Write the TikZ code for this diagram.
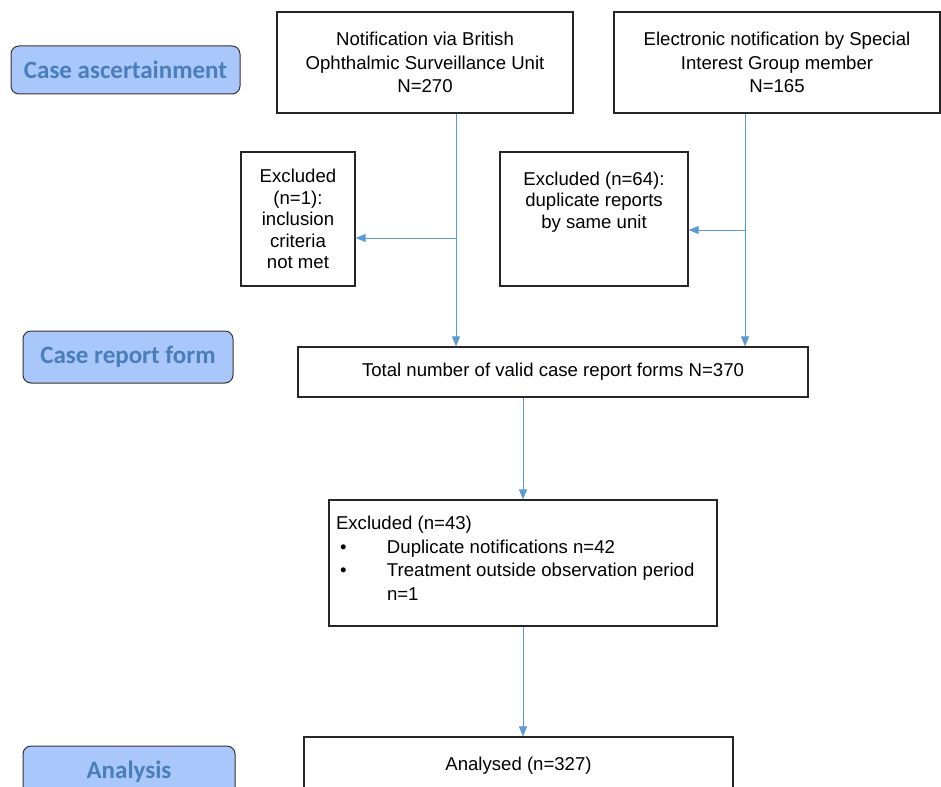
\documentclass[tikz,border=0pt]{standalone}
\usepackage{fontspec}
\setmainfont{Liberation Sans}
\newfontfamily\stageFont{Carlito}
\usepackage{tikz}
\usetikzlibrary{arrows.meta,positioning}
\usepackage{xcolor}
\definecolor{flowBlue}{HTML}{5B9BD5}
\definecolor{stageFill}{HTML}{A9C7FB}
\definecolor{stageText}{HTML}{4A7EBB}
\newcommand{\boxLine}{1.2pt}
\newcommand{\textSize}{\fontsize{18.6}{21.5}\selectfont}
\newcommand{\pictureWidth}{941}
\newcommand{\pictureHeight}{786}

\begin{document}
\begin{tikzpicture}[x=1pt, y=-1pt,
  stage/.style={draw=black!80, line width=1pt, rounded corners=8pt, fill=stageFill,
    text=stageText, font=\stageFont\bfseries\fontsize{25}{28}\selectfont, inner sep=0pt},
  flowbox/.style={draw=black!85, line width=\boxLine, fill=white, inner sep=0pt,
    align=center, font=\textSize},
  flow/.style={draw=flowBlue, line width=1pt, -{Triangle[length=10pt,width=8pt]}}]
\useasboundingbox (0,0) rectangle (\pictureWidth,\pictureHeight);
\clip (0,0) rectangle (\pictureWidth,\pictureHeight);

% stages on the left
\node[stage, minimum width=229pt, minimum height=48pt] (stageAsc) at (125.5,70) {Case ascertainment};
\node[stage, minimum width=210pt, minimum height=52pt] (stageCrf) at (128,357) {Case report form};
\node[stage, minimum width=212pt, minimum height=52pt] (stageAna) at (129,772) {Analysis};

% boxes
\node[flowbox, minimum width=296pt, minimum height=101pt, font=\fontsize{18.6}{23.5}\selectfont] (bousBox) at (425,62.5)
  {Notification via British\\Ophthalmic Surveillance Unit\\N=270};
\node[flowbox, minimum width=326pt, minimum height=101pt, font=\fontsize{18.6}{23.5}\selectfont] (sigBox) at (777,62.5)
  {Electronic notification by Special\\Interest Group member\\N=165};
\node[flowbox, minimum width=114pt, minimum height=134pt] (exclOne) at (298,219)
  {Excluded\\(n=1):\\inclusion\\criteria\\not met};
\node[flowbox, minimum width=188pt, minimum height=134pt] (exclTwo) at (594,219)
  {\parbox[c][114pt][t]{180pt}{\centering\textSize\vspace*{10pt}Excluded (n=64):\\duplicate reports\\by same unit}};
\node[flowbox, minimum width=510pt, minimum height=50pt] (totalBox) at (553,372)
  {Total number of valid case report forms N=370};
\node[flowbox, minimum width=388pt, minimum height=126pt] (exclMain) at (523,563)
  {\parbox[c][110pt][t]{374pt}{\fontsize{18.6}{23.7}\selectfont
    \vspace*{8pt}Excluded (n=43)\\
    \hspace*{4pt}\makebox[47pt][l]{\textbullet}Duplicate notifications n=42\\
    \hspace*{4pt}\makebox[47pt][l]{\textbullet}Treatment outside observation period\\
    \hspace*{51pt}n=1}};
\node[flowbox, minimum width=429pt, minimum height=58pt] (analysedBox) at (518.5,766)
  {Analysed (n=327)};

% connectors
\coordinate (bousTap) at ([xshift=31pt]bousBox.south);
\coordinate (sigTap) at ([xshift=-32pt]sigBox.south);
\coordinate (exclOneIn) at ([yshift=-19pt]exclOne.east);
\coordinate (exclTwoIn) at ([yshift=-11pt]exclTwo.east);
\draw[flow] (bousTap) -- (bousTap |- totalBox.north);
\draw[flow] (sigTap) -- (sigTap |- totalBox.north);
\draw[flow] (bousTap |- exclOneIn) -- (exclOneIn);
\draw[flow] (sigTap |- exclTwoIn) -- (exclTwoIn);
\draw[flow] (exclMain.north |- totalBox.south) -- (exclMain.north);
\draw[flow] (exclMain.south) -- (exclMain.south |- analysedBox.north);
\end{tikzpicture}
\end{document}
